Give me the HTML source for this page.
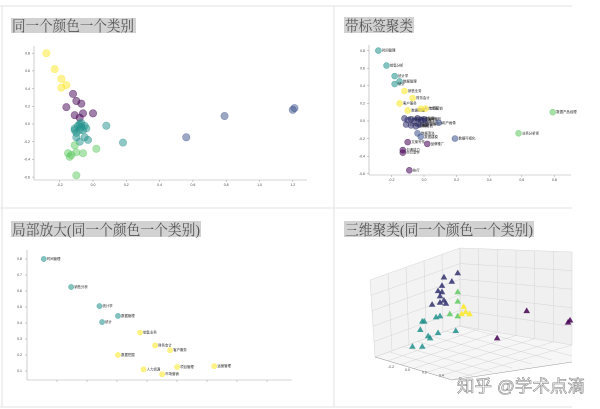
<!DOCTYPE html>
<html><head><meta charset="utf-8"><style>
body{margin:0;background:#fff;width:600px;height:409px;overflow:hidden}
svg{display:block}
.t{font-family:"Liberation Serif","Noto Serif CJK SC",serif;fill:#555}
.tk{font-family:"Liberation Sans",sans-serif;font-size:3.5px;fill:#444}
.lb{font-family:"Liberation Sans","Noto Sans CJK SC",sans-serif;font-size:3.4px;fill:#222}
</style></head><body>
<svg id="s" width="600" height="409" viewBox="0 0 600 409" xmlns="http://www.w3.org/2000/svg">
<g stroke="#e6e6e6" stroke-width="1.2" fill="none">
<line x1="0" y1="6" x2="572" y2="6"/><line x1="2" y1="6" x2="2" y2="407"/>
<line x1="334" y1="6" x2="334" y2="407"/><line x1="0" y1="208" x2="572" y2="208"/>
<line x1="0" y1="407" x2="572" y2="407"/>
</g>
<g>
<rect x="11" y="18" width="125" height="15" fill="#d2d2d2"/>
<text class="t" x="12" y="31" font-size="15" textLength="122" lengthAdjust="spacingAndGlyphs">同一个颜色一个类别</text>
<rect x="344" y="17" width="70" height="16" fill="#d2d2d2"/>
<text class="t" x="345" y="31" font-size="15" textLength="68" lengthAdjust="spacingAndGlyphs">带标签聚类</text>
<rect x="11" y="221" width="190" height="16" fill="#d2d2d2"/>
<text class="t" x="12" y="235" font-size="15" textLength="188" lengthAdjust="spacingAndGlyphs">局部放大(同一个颜色一个类别)</text>
<rect x="344" y="221" width="190" height="16" fill="#d2d2d2"/>
<text class="t" x="345" y="235" font-size="15" textLength="188" lengthAdjust="spacingAndGlyphs">三维聚类(同一个颜色一个类别)</text>
</g>
<g id="p1"></g>
<g id="p2"></g>
<g id="p3"></g>
<g id="p4"></g>
<text x="457" y="392" font-family="'Liberation Sans','Noto Sans CJK SC',sans-serif" font-size="17" fill="#fff" stroke="#888" stroke-width="0.6" textLength="128" lengthAdjust="spacingAndGlyphs">知乎 @学术点滴</text>
</svg>
<script>
const NS='http://www.w3.org/2000/svg';
function mk(p,tag,at){const e=document.createElementNS(NS,tag);for(const k in at)e.setAttribute(k,at[k]);p.appendChild(e);return e;}
const COL={y:'#fde725',p:'#440154',t:'#21918c',g:'#5ec962',b:'#3b528b',n:'#30306e'};

// Panel 1 data
const p1X=[-0.28,-0.23,-0.19,-0.16,-0.19,-0.12,-0.10,-0.07,-0.16,-0.11,-0.06,0.00,-0.08,-0.11,-0.09,-0.08,-0.07,-0.05,-0.04,-0.08,-0.06,-0.10,-0.07,-0.11,0.08,-0.10,-0.05,-0.03,-0.08,0.18,-0.11,-0.15,-0.13,-0.14,-0.10,-0.06,0.02,-0.10,0.56,0.79,1.20,1.21];
const p1Y=[0.80,0.62,0.51,0.44,0.41,0.34,0.26,0.23,0.19,0.10,0.12,0.12,0.07,-0.05,-0.02,0.00,-0.03,-0.02,-0.05,-0.07,-0.07,-0.10,0.01,-0.07,-0.02,-0.15,-0.15,-0.18,-0.20,-0.21,-0.24,-0.33,-0.35,-0.37,-0.32,-0.33,-0.28,-0.58,-0.15,0.09,0.16,0.18];
const p1C=['y','y','y','y','y','p','p','p','p','p','p','p','p','t','t','t','t','t','t','t','t','t','t','t','t','t','t','t','t','t','g','g','g','g','g','g','g','g','b','b','b','b'];
const p1XT=['-0.2','0.0','0.2','0.4','0.6','0.8','1.0','1.2'];
const p1YT=['0.8','0.6','0.4','0.2','0.0','-0.2','-0.4','-0.6'];

// Panel 2 data
const p2X=[-0.28,-0.23,-0.18,-0.15,-0.18,-0.12,-0.07,-0.15,-0.10,-0.02,0.01,-0.12,-0.10,-0.08,-0.06,-0.04,-0.02,0.00,0.01,-0.11,-0.08,-0.05,-0.03,0.09,-0.04,-0.02,0.19,-0.10,-0.13,-0.13,0.02,-0.09,0.79,0.58];
const p2Y=[0.80,0.63,0.51,0.45,0.42,0.34,0.26,0.20,0.12,0.14,0.14,0.03,0.01,0.02,0.00,0.03,0.01,0.02,-0.03,-0.04,-0.05,-0.06,-0.04,-0.02,-0.14,-0.18,-0.20,-0.24,-0.33,-0.36,-0.26,-0.56,0.10,-0.14];
const p2C=['t','t','t','t','t','y','y','y','y','y','y','n','n','n','n','n','n','n','n','n','n','n','n','b','b','b','b','p','p','p','p','p','g','g'];
const p2L=['时间管理','销售分析','统计学','数据管理','统计','销售业务','财务会计','客户服务','数据挖掘','人力资源','市场营销','项目管理','运营管理','质量管理','物流管理','风险管理','成本控制','战略规划','团队协作','商务谈判','行政管理','财务分析','预算管理','用户画像','数据清洗','数据建模','数据可视化','文案写作','沟通能力','办公软件','品牌推广','执行','数据产品经理','业务分析师'];
const p2XT=['-0.2','0.0','0.2','0.4','0.6','0.8'];
const p2YT=['0.8','0.6','0.4','0.2','0.0','-0.2','-0.4','-0.6'];

// Panel 3 data
const p3X=[-0.281,-0.250,-0.218,-0.215,-0.197,-0.172,-0.155,-0.138,-0.197,-0.168,-0.147,-0.130,-0.088];
const p3Y=[0.80,0.625,0.506,0.406,0.444,0.34,0.26,0.23,0.20,0.11,0.08,0.125,0.13];
const p3C=['t','t','t','t','t','y','y','y','y','y','y','y','y'];
const p3L=['时间管理','销售分析','统计学','统计','数据管理','销售业务','财务会计','客户服务','数据挖掘','人力资源','市场营销','项目管理','运营管理'];
const p3YT=['0.8','0.7','0.6','0.5','0.4','0.3','0.2','0.1'];

// Panel 4 data (projected coordinates in plot units 0..1)
const p4X=[0.42,0.35,0.39,0.34,0.32,0.34,0.33,0.35,0.29,0.33,0.36,0.42,0.42,0.38,0.42,0.45,0.46,0.44,0.48,0.33,0.24,0.25,0.23,0.31,0.27,0.32,0.41,0.19,0.24,0.28,0.77,0.62,0.98,0.99];
const p4Y=[0.78,0.74,0.70,0.66,0.61,0.60,0.56,0.52,0.48,0.50,0.49,0.60,0.51,0.39,0.37,0.46,0.41,0.39,0.39,0.37,0.32,0.32,0.24,0.36,0.18,0.21,0.23,0.08,0.08,0.16,0.42,0.16,0.31,0.33];
const p4C=['n','n','n','n','n','n','n','n','n','n','n','g','g','g','g','y','y','y','y','t','t','t','t','t','t','t','t','t','t','t','p','p','p','p'];
const p4XT=['-0.2','0.0','0.2','0.4'];

function axes(g,x0,x1,y0,y1){mk(g,'line',{x1:x0,y1:y0,x2:x0,y2:y1,stroke:'#aaa','stroke-width':0.6});mk(g,'line',{x1:x0,y1:y1,x2:x1,y2:y1,stroke:'#aaa','stroke-width':0.6});}
function dots(g,X,Y,C,sx,sy,r,op,labels){
  for(let i=0;i<X.length;i++){
    const c=mk(g,'circle',{cx:sx(X[i]),cy:sy(Y[i]),r:r,fill:COL[C[i]],'fill-opacity':op,stroke:COL[C[i]],'stroke-opacity':op,'stroke-width':0.6});
    
    
    if(labels){const t=mk(g,'text',{x:sx(X[i])+r+0.5,y:sy(Y[i])+1,class:'lb'});t.textContent=labels[i];
      
      }
  }
}
// Panel 1
(function(){const g=document.getElementById('p1');
const sx=v=>93+v*166.5, sy=v=>124-v*88.5;
axes(g,34,307,46,180);
p1XT.forEach(s=>{const v=parseFloat(s);mk(g,'line',{x1:sx(v),y1:180,x2:sx(v),y2:182,stroke:'#999','stroke-width':0.5});const t=mk(g,'text',{x:sx(v),y:186,class:'tk','text-anchor':'middle'});t.textContent=s;});
p1YT.forEach(s=>{const v=parseFloat(s);mk(g,'line',{x1:32,y1:sy(v),x2:34,y2:sy(v),stroke:'#999','stroke-width':0.5});const t=mk(g,'text',{x:30,y:sy(v)+1.2,class:'tk','text-anchor':'end'});t.textContent=s;});
dots(g,p1X,p1Y,p1C,sx,sy,3.7,0.5,null);})();
// Panel 2
(function(){const g=document.getElementById('p2');
const sx=v=>424+v*163, sy=v=>121-v*88;
axes(g,369,571,45,175);
p2XT.forEach(s=>{const v=parseFloat(s);mk(g,'line',{x1:sx(v),y1:175,x2:sx(v),y2:177,stroke:'#999','stroke-width':0.5});const t=mk(g,'text',{x:sx(v),y:181,class:'tk','text-anchor':'middle'});t.textContent=s;});
p2YT.forEach(s=>{const v=parseFloat(s);mk(g,'line',{x1:367,y1:sy(v),x2:369,y2:sy(v),stroke:'#999','stroke-width':0.5});const t=mk(g,'text',{x:365,y:sy(v)+1.2,class:'tk','text-anchor':'end'});t.textContent=s;});
dots(g,p2X,p2Y,p2C,sx,sy,3,0.55,p2L);})();
// Panel 3
(function(){const g=document.getElementById('p3');
const sx=v=>27+(v+0.3)/0.3*265, sy=v=>259+(0.8-v)*160;
axes(g,27,292,250,380);
for(let k=1;k<9;k++){mk(g,'line',{x1:27+k*30,y1:380,x2:27+k*30,y2:382,stroke:'#999','stroke-width':0.5});}
p3YT.forEach(s=>{const v=parseFloat(s);mk(g,'line',{x1:25,y1:sy(v),x2:27,y2:sy(v),stroke:'#999','stroke-width':0.5});const t=mk(g,'text',{x:22,y:sy(v)+1.2,class:'tk','text-anchor':'end'});t.textContent=s;});
dots(g,p3X,p3Y,p3C,sx,sy,2.6,0.55,p3L);})();
// Panel 4
(function(){const g=document.getElementById('p4');
const A=[460,248],B=[572,252],C=[572,345],D=[460,326],E=[370,280],F=[375,357],H=[452,380],G=[572,362];
function quad(P,fill){mk(g,'polygon',{points:P.map(p=>p.join(',')).join(' '),fill:fill});}
quad([A,B,C,D],'#f0f0f0');quad([E,A,D,F],'#f3f3f3');quad([F,D,C,G,H],'#f6f6f6');
const L=(p,q,t)=>[p[0]+(q[0]-p[0])*t,p[1]+(q[1]-p[1])*t];
function grid(P1,P2,Q1,Q2,n){for(let k=0;k<=n;k++){const a=L(P1,P2,k/n),b=L(Q1,Q2,k/n);mk(g,'line',{x1:a[0],y1:a[1],x2:b[0],y2:b[1],stroke:'#d4d4d4','stroke-width':0.5});}}
grid(A,B,D,C,6);grid(A,D,B,C,5);grid(E,A,F,D,5);grid(E,F,A,D,5);grid(F,D,H,[572,356],6);grid(F,H,D,C,6);
mk(g,'line',{x1:F[0],y1:F[1],x2:H[0],y2:H[1],stroke:'#999','stroke-width':0.5});
mk(g,'line',{x1:H[0],y1:H[1],x2:G[0],y2:G[1],stroke:'#999','stroke-width':0.5});
p4XT.forEach((s,i)=>{const t=mk(g,'text',{x:388+i*17,y:368+i*2.8,class:'tk'});t.textContent=s;});
const sx=v=>375+v*197, sy=v=>355-v*105;
for(let i=0;i<p4X.length;i++){const x=sx(p4X[i]),y=sy(p4Y[i]);
  const tr=mk(g,'polygon',{points:`${x},${y-3.5} ${x-3.3},${y+2.2} ${x+3.3},${y+2.2}`,fill:COL[p4C[i]],'fill-opacity':0.85});
  
  }
})();
</script>
</body></html>
